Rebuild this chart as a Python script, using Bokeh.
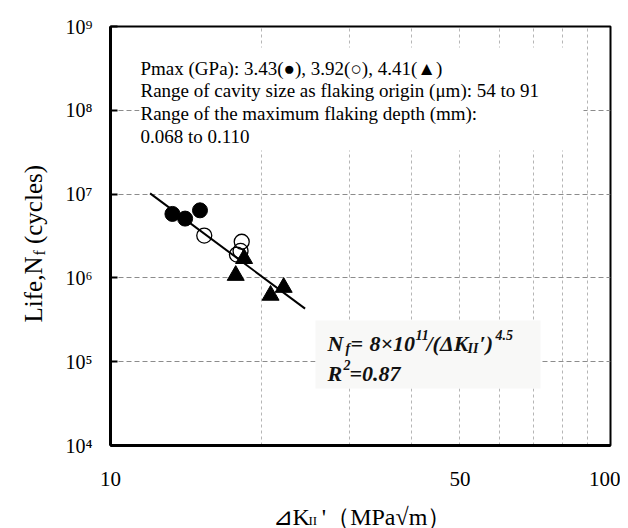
import math
from bokeh.plotting import figure
from bokeh.models import FixedTicker, BoxAnnotation, Label
from bokeh.embed import file_html
from bokeh.resources import INLINE

# ---------------- data ----------------
filled_x = [13.3, 14.1, 15.1]          # Pmax 3.43 GPa (filled circles)
filled_y = [5.8e6, 5.1e6, 6.4e6]
open_x = [15.4, 18.3, 18.2, 17.9]      # Pmax 3.92 GPa (open circles)
open_y = [3.2e6, 2.7e6, 2.1e6, 1.9e6]
tri_x = [18.5, 17.8, 20.9, 22.2]       # Pmax 4.41 GPa (triangles)
tri_y = [1.7e6, 1.07e6, 6.2e5, 7.7e5]
fit_x = [12.0, 24.5]                   # fitted line Nf = 8e11 / dK^4.5
fit_y = [1.02e7, 4.3e5]

x_ticks = [10, 50, 100]
x_tick_labels = ["10", "50", "100"]
y_ticks = [1e4, 1e5, 1e6, 1e7, 1e8, 1e9]
y_tick_labels = ["10⁴", "10⁵", "10⁶", "10⁷", "10⁸", "10⁹"]
x_grid = [20, 30, 40, 50, 60, 70, 80, 90]
y_grid = [1e5, 1e6, 1e7, 1e8]

note_lines = [
    "Pmax (GPa): 3.43(●), 3.92(○), 4.41(▲)",
    "Range of cavity size as flaking origin (μm): 54 to 91",
    "Range of the maximum flaking depth (mm):",
    "0.068 to 0.110",
]

SERIF = "Liberation Serif"
NB = "\u00a0"

# frame geometry in page pixels
FL, FT, FW, FH = 110, 26, 500, 419
CW, CH = 620, 528


def X(px):
    return 10 ** (1 + (px - FL) / FW)


def Y(py):
    return 10 ** (9 - 5 * (py - FT) / FH)


p = figure(width=CW, height=CH, x_axis_type="log", y_axis_type="log",
           x_range=(10, 100), y_range=(1e4, 1e9),
           output_backend="svg", toolbar_location=None,
           min_border_left=FL, min_border_right=CW - FL - FW,
           min_border_top=FT, min_border_bottom=CH - FT - FH)
p.background_fill_color = "white"
p.border_fill_color = "white"
p.outline_line_color = "black"
p.outline_line_width = 2

# grids
p.xgrid.ticker = FixedTicker(ticks=x_grid)
p.ygrid.ticker = FixedTicker(ticks=y_grid)
p.xgrid.grid_line_color = "#b5b5b5"
p.xgrid.grid_line_dash = "3 3"
p.xgrid.grid_line_width = 1
p.ygrid.grid_line_color = "#8c8c8c"
p.ygrid.grid_line_dash = "5 3"
p.ygrid.grid_line_width = 1

# axes
p.xaxis.ticker = FixedTicker(ticks=x_ticks)
p.yaxis.ticker = FixedTicker(ticks=y_ticks)
p.xaxis.major_label_overrides = {float(t): s for t, s in zip(x_ticks, x_tick_labels)}
p.yaxis.major_label_overrides = {float(t): s for t, s in zip(y_ticks, y_tick_labels)}
for ax in (p.xaxis, p.yaxis):
    ax.axis_line_color = "black"
    ax.axis_line_width = 3
    ax.minor_tick_line_color = None
    ax.major_label_text_font = SERIF
    ax.major_label_text_color = "black"
    ax.major_label_text_font_style = "normal"
p.yaxis.major_label_text_font_size = "20px"
p.xaxis.major_label_text_font_size = "21px"
p.yaxis.major_tick_in = 7
p.yaxis.major_tick_out = 0
p.yaxis.major_tick_line_width = 2
p.yaxis.major_tick_line_color = "black"
p.yaxis.major_label_standoff = 18
p.xaxis.major_tick_line_color = None
p.xaxis.major_label_standoff = 20

# white box behind the notes
p.add_layout(BoxAnnotation(left=X(139), right=X(583), top=Y(47), bottom=Y(150),
                           fill_color="white", fill_alpha=1.0, line_color=None))
# equation box
p.add_layout(BoxAnnotation(left=X(315), right=X(540), top=Y(320), bottom=Y(388),
                           fill_color="#f8f8f7", fill_alpha=1.0, line_color=None))

# data
p.line(fit_x, fit_y, line_color="black", line_width=2)
p.scatter(filled_x, filled_y, marker="circle", size=15, fill_color="black",
          line_color="black")
p.scatter(open_x, open_y, marker="circle", size=15, fill_color=None,
          line_color="black", line_width=1.3)
p.scatter(tri_x, tri_y, marker="triangle", size=17, fill_color="black",
          line_color="black")

# note text
for txt, base in zip(note_lines, [68, 90, 113, 136]):
    p.add_layout(Label(x=X(140), y=Y(base), text=txt, text_font=SERIF,
                       text_font_size="19px", text_color="black",
                       text_baseline="alphabetic", text_align="left"))


def piece(txt, px, py, size, style="bold italic", angle=0.0, color="#111111",
          place=None):
    lab = Label(x=X(px), y=Y(py), text=txt, text_font=SERIF,
                text_font_size=f"{size}px", text_font_style=style,
                text_color=color, angle=angle,
                text_baseline="alphabetic", text_align="left")
    if place is None:
        p.add_layout(lab)
    else:
        p.add_layout(lab, place)


# equation
b1, b2 = 343, 373
piece("N", 327, b1, 22)
piece("f", 345, b1 + 5, 14)
piece("=", 350, b1, 22)
piece("8×10", 369, b1, 22)
piece("11", 415, b1 - 9, 14)
piece("/(ΔK", 426, b1, 22)
piece("II", 467, b1 + 5, 14)
piece("′)", 479, b1, 22)
piece("4.5", 495, b1 - 9, 14)
piece("R", 327, b2, 22)
piece("2", 343, b2 - 9, 14)
piece("=0.87", 349, b2, 22)

# x axis title (outside the frame -> placed in side panels so it is not clipped)
piece("⊿K" + NB * 2 + "'（MPa√m）", 272, 516, 24, style="normal",
      color="black", place="below")
piece("II", 308, 520, 13, style="normal", color="black", place="above")

# y axis title (rotated)
ang = math.pi / 2
piece("Life,N" + NB * 2 + "(cycles)", 33, 322, 25, style="normal", angle=ang,
      color="black", place="left")
piece("f", 39, 255, 16, style="normal", angle=ang, color="black", place="above")

open("out.html", "w").write(file_html(p, INLINE))
